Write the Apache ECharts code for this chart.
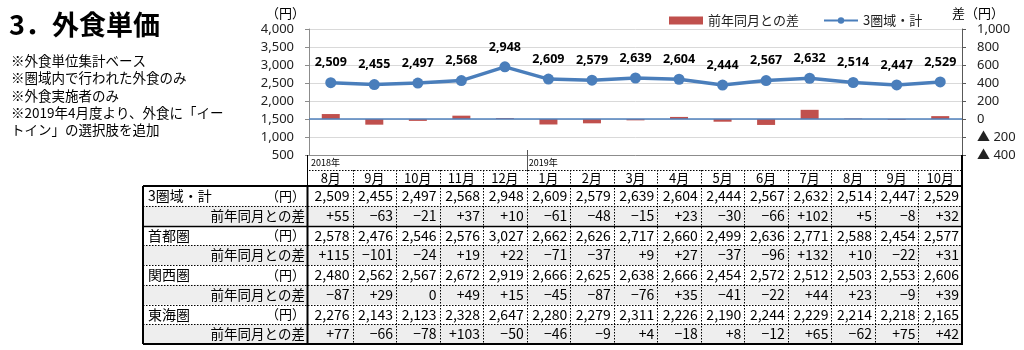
<!DOCTYPE html>
<html><head><meta charset="utf-8">
<script src="https://cdn.jsdelivr.net/npm/echarts@6/dist/echarts.min.js"></script>
<style>html,body{margin:0;padding:0;background:#fff}#c{width:1024px;height:350px}</style>
</head><body><div id="c"></div>
<script>
// ---------- DATA ----------
const months = ['8月','9月','10月','11月','12月','1月','2月','3月','4月','5月','6月','7月','8月','9月','10月'];
const yearMarks = [{label:'2018年', col:0}, {label:'2019年', col:5}];
const total      = [2509,2455,2497,2568,2948,2609,2579,2639,2604,2444,2567,2632,2514,2447,2529];
const totalDiff  = [55,-63,-21,37,10,-61,-48,-15,23,-30,-66,102,5,-8,32];
const shuto      = [2578,2476,2546,2576,3027,2662,2626,2717,2660,2499,2636,2771,2588,2454,2577];
const shutoDiff  = [115,-101,-24,19,22,-71,-37,9,27,-37,-96,132,10,-22,31];
const kansai     = [2480,2562,2567,2672,2919,2666,2625,2638,2666,2454,2572,2512,2503,2553,2606];
const kansaiDiff = [-87,29,0,49,15,-45,-87,-76,35,-41,-22,44,23,-9,39];
const tokai      = [2276,2143,2123,2328,2647,2280,2279,2311,2226,2190,2244,2229,2214,2218,2165];
const tokaiDiff  = [77,-66,-78,103,-50,-46,-9,4,-18,8,-12,65,-62,75,42];
const regionNames = ['3圏域・計','首都圏','関西圏','東海圏'];
const diffLabel = '前年同月との差';
const unitLabel = '（円）';
const seriesNames = ['前年同月との差','3圏域・計'];
const notes = ['※外食単位集計ベース','※圏域内で行われた外食のみ','※外食実施者のみ','※2019年4月度より、外食に「イー','トイン」の選択肢を追加'];
const titleText = '3．外食単価';

// ---------- LAYOUT ----------
const CJK = '"Noto Sans CJK JP", sans-serif';
const NUM = '"Noto Sans", "Noto Sans CJK JP", sans-serif';
const GL = 309, GR = 962, GT = 29, GB = 155;
const colW = (GR - GL) / months.length;
const TL = 143, HT = 155, YR = 170, MR = 186, TB = 344;
const rowH = (TB - MR) / 8;

const fmt = v => v.toLocaleString('en-US');
const fmtDiff = v => v > 0 ? '+' + v : (v < 0 ? '−' + Math.abs(v) : '0');

const rows = [
  {name: regionNames[0], vals: total, diffs: totalDiff},
  {name: regionNames[1], vals: shuto, diffs: shutoDiff},
  {name: regionNames[2], vals: kansai, diffs: kansaiDiff},
  {name: regionNames[3], vals: tokai, diffs: tokaiDiff}
];

const g = [];
function txt(t, x, y, font, align, valign, fill) {
  g.push({type:'text', silent:true, z:100, style:{text:t, x:x, y:y, font:font, fill:fill||'#000', textAlign:align||'left', textVerticalAlign:valign||'middle'}});
}
function line(x1,y1,x2,y2,w,dash,color) {
  g.push({type:'line', silent:true, z:101, shape:{x1,y1,x2,y2}, style:{stroke:color||'#000', lineWidth:w, lineDash:dash||null}});
}

// title & notes
txt(titleText, 9, 25, 'bold 27px ' + CJK, 'left', 'middle');
notes.forEach((n, i) => txt(n, 11, [61, 78, 95.5, 112.5, 130][i], '13.5px ' + CJK, 'left', 'middle'));
// axis units
txt('（円）', 305, 13, '13px ' + CJK, 'right', 'middle');
txt('差（円）', 952, 13, '13px ' + CJK, 'left', 'middle');

// diff row backgrounds
rows.forEach((r, i) => {
  g.push({type:'rect', silent:true, z:99, shape:{x:TL, y:MR + (2*i+1)*rowH, width:GR-TL, height:rowH}, style:{fill:'#eeeeee'}});
});
// header
yearMarks.forEach(ym => txt(ym.label, GL + ym.col*colW + 2, 162.5, '9px ' + CJK, 'left', 'middle'));
months.forEach((m, k) => txt(m, GL + (k+0.5)*colW, 178.5, '13px ' + CJK, 'center', 'middle'));
// body
rows.forEach((r, i) => {
  const y1 = MR + (2*i + 0.5)*rowH, y2 = MR + (2*i + 1.5)*rowH;
  txt(r.name, 148, y1, '14px ' + CJK, 'left', 'middle');
  txt(unitLabel, GL - 4, y1, '13px ' + CJK, 'right', 'middle');
  txt(diffLabel, GL - 4, y2, '13.5px ' + CJK, 'right', 'middle');
  r.vals.forEach((v, k) => txt(fmt(v), GL + (k+1)*colW - 3, y1, '14px ' + CJK, 'right', 'middle'));
  r.diffs.forEach((v, k) => txt(fmtDiff(v), GL + (k+1)*colW - 3, y2, '14px ' + CJK, 'right', 'middle'));
});
// grid lines of table
const DOT = [1.5, 1.5];
line(GL, YR + 0.5, GR, YR + 0.5, 1, DOT);
for (let k = 1; k < months.length; k++) {
  const x = Math.round(GL + k*colW) + 0.5;
  line(x, YR, x, TB, 1, DOT);
}
yearMarks.forEach(ym => { if (ym.col > 0) { const x = Math.round(GL + ym.col*colW) + 0.5; line(x, 150, x, YR, 1, null, '#555'); } });
for (let i = 1; i < 8; i++) {
  const y = Math.round(MR + i*rowH) + 0.5;
  if (i === 2) line(TL, y, GR, y, 1.5, null); else line(TL, y, GR, y, 1, DOT);
}
line(TL, MR, GR, MR, 2, null);
line(TL, TB, GR + 1, TB, 2, null);
line(TL, MR, TL, TB, 2, null);
line(GL - 1.5, HT, GL - 1.5, MR, 1, null);
line(GL - 1.5, MR, GL - 1.5, TB, 2, null);
line(GR, HT, GR, TB, 2, null);

const option = {
  animation: false,
  backgroundColor: '#fff',
  textStyle: {fontFamily: NUM},
  legend: {
    data: [{name: seriesNames[0], icon: 'rect'}, {name: seriesNames[1]}],
    left: 664, top: 9, itemWidth: 34, itemHeight: 8, itemGap: 24,
    textStyle: {fontFamily: CJK, fontSize: 13, color: '#222'}
  },
  grid: {left: GL, right: 1024 - GR, top: GT, bottom: 350 - GB, containLabel: false},
  xAxis: {
    type: 'category', data: months, boundaryGap: true,
    axisLine: {show: true, onZero: false, lineStyle: {color: '#8c8c8c'}},
    axisTick: {show: false}, axisLabel: {show: false}, splitLine: {show: false}
  },
  yAxis: [
    {
      type: 'value', min: 500, max: 4000, interval: 500, position: 'left',
      axisLine: {show: true, lineStyle: {color: '#8c8c8c'}},
      axisTick: {show: true, length: 4, lineStyle: {color: '#8c8c8c'}},
      axisLabel: {fontFamily: NUM, fontSize: 13, color: '#222', margin: 15, formatter: v => fmt(v)},
      splitLine: {show: true, lineStyle: {color: '#d9d9d9'}}
    },
    {
      type: 'value', min: -400, max: 1000, interval: 200, position: 'right',
      axisLine: {show: true, lineStyle: {color: '#595959'}},
      axisTick: {show: true, length: 4, lineStyle: {color: '#595959'}},
      axisLabel: {fontFamily: NUM, fontSize: 13, color: '#222', margin: 15,
        formatter: v => v < 0 ? '▲ ' + Math.abs(v) : fmt(v)},
      splitLine: {show: false}
    }
  ],
  series: [
    {
      name: seriesNames[0], type: 'bar', yAxisIndex: 1, data: totalDiff, barWidth: 18,
      itemStyle: {color: '#C0504D'},
      markLine: {silent: true, symbol: 'none', label: {show: false},
        lineStyle: {color: '#4F81BD', width: 1.5, type: 'solid'}, data: [{yAxis: 0}]}
    },
    {
      name: seriesNames[1], type: 'line', yAxisIndex: 0, data: total,
      symbol: 'circle', symbolSize: 11,
      lineStyle: {color: '#4A7EBB', width: 3.5}, itemStyle: {color: '#4A7EBB'},
      label: {show: true, position: 'top', distance: 8, fontFamily: NUM, fontWeight: 'bold', fontSize: 12.5, color: '#000', formatter: p => fmt(p.value)}
    }
  ],
  graphic: g
};
const chart = echarts.init(document.getElementById('c'), null, {renderer: 'canvas'});
chart.setOption(option);
</script></body></html>
